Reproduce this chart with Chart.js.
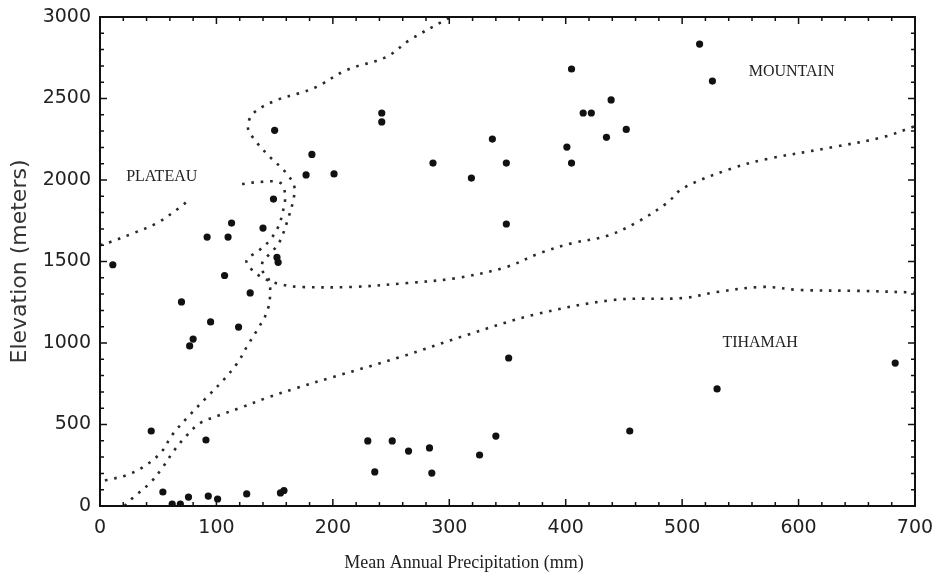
<!DOCTYPE html>
<html>
<head>
<meta charset="utf-8">
<script src="https://cdn.jsdelivr.net/npm/chart.js@4.4.0/dist/chart.umd.min.js"></script>
<style>
  body { margin: 0; background: #fff; }
  #chart { display: block; }
</style>
</head>
<body>
<canvas id="chart" width="940" height="578"></canvas>
<script>
// station points: precipitation (mm) vs elevation (m)
const precip = [11, 150, 182, 177, 149, 113, 92, 110, 140, 152, 153, 107, 70, 129, 95, 119, 80, 77,
  44, 91, 54, 76, 93, 101, 126, 155, 158, 62, 69,
  242, 242, 201, 286, 337, 319, 349, 349, 405, 439, 415, 422, 435, 401, 405, 515, 526, 452,
  351, 230, 251, 265, 283, 340, 326, 236, 285, 455, 530, 683]
const elevation = [1480, 2305, 2157, 2031, 1883, 1736, 1650, 1650, 1705, 1525, 1495, 1414, 1252, 1307, 1129, 1098, 1024, 982,
  460, 405, 86, 55, 61, 43, 74, 80, 95, 12, 12,
  2411, 2356, 2037, 2104, 2251, 2012, 2104, 1730, 2681, 2491, 2411, 2411, 2262, 2202, 2104, 2834, 2607, 2310,
  908, 399, 399, 337, 356, 429, 313, 209, 202, 460, 718, 877]

// dotted region boundaries
const plateauX = [0, 9, 28, 49, 69, 77]
const plateauY = [1600, 1620, 1672, 1736, 1834, 1883]

const mountainX = [300, 266, 246, 212, 186, 172, 152, 132, 127, 133, 146, 160, 167, 166, 162, 155, 149, 140, 139, 145, 146, 143, 135, 126, 118, 106, 92, 77, 62, 52, 37, 23, 6, 0]
const mountainY = [2995, 2859, 2755, 2675, 2571, 2534, 2491, 2411, 2325, 2245, 2141, 2043, 1957, 1877, 1773, 1632, 1570, 1500, 1450, 1387, 1282, 1183, 1080, 976, 877, 773, 669, 558, 436, 325, 239, 190, 160, 155]

const middleX = [122, 137, 155, 159, 157, 153, 146, 137, 126, 129, 140, 155, 172, 217, 264, 307, 349, 378, 406, 435, 460, 487, 501, 544, 573, 630, 673, 700]
const middleY = [1975, 1988, 1982, 1908, 1804, 1712, 1632, 1570, 1509, 1460, 1399, 1360, 1344, 1344, 1368, 1399, 1466, 1552, 1613, 1656, 1736, 1859, 1951, 2074, 2129, 2202, 2264, 2330]

const tihamahX = [21, 28, 43, 54, 64, 75, 86, 103, 120, 143, 169, 200, 258, 315, 372, 441, 501, 530, 569, 601, 650, 700]
const tihamahY = [0, 49, 141, 239, 344, 436, 509, 558, 601, 663, 724, 791, 914, 1049, 1172, 1264, 1276, 1313, 1344, 1325, 1320, 1310]

// region names and where they sit (data units)
const regionNames = ['PLATEAU', 'MOUNTAIN', 'TIHAMAH']
const regionX = [53, 594, 567]
const regionY = [2018, 2663, 1000]

const xTicks = [0, 100, 200, 300, 400, 500, 600, 700]
const yTicks = [0, 500, 1000, 1500, 2000, 2500, 3000]

const toXY = (xs, ys) => xs.map((x, i) => ({ x: x, y: ys[i] }))

const dotted = (xs, ys) => ({
  data: toXY(xs, ys),
  showLine: true,
  pointRadius: 0,
  borderColor: '#2a2a2a',
  borderWidth: 2.6,
  borderDash: [2.6, 6.8],
  tension: 0.35,
  fill: false,
  order: 2
})

const frame = {
  id: 'frame',
  afterDraw(chart) {
    const ctx = chart.ctx
    const a = chart.chartArea
    const xs = chart.scales.x
    const ys = chart.scales.y
    ctx.save()
    ctx.strokeStyle = '#111'
    ctx.lineWidth = 2
    ctx.strokeRect(a.left, a.top, a.right - a.left, a.bottom - a.top)

    // inward ticks, minor every 20 mm / 100 m
    ctx.lineWidth = 1.5
    ctx.beginPath()
    for (let v = 0; v <= 700; v += 20) {
      const px = xs.getPixelForValue(v)
      const len = v % 100 === 0 ? 7 : 4
      ctx.moveTo(px, a.bottom); ctx.lineTo(px, a.bottom - len)
      ctx.moveTo(px, a.top); ctx.lineTo(px, a.top + len)
    }
    for (let v = 0; v <= 3000; v += 100) {
      const py = ys.getPixelForValue(v)
      const len = v % 500 === 0 ? 7 : 4
      ctx.moveTo(a.left, py); ctx.lineTo(a.left + len, py)
      ctx.moveTo(a.right, py); ctx.lineTo(a.right - len, py)
    }
    ctx.stroke()

    // region labels
    ctx.fillStyle = '#222'
    ctx.font = '16px "Liberation Serif", serif'
    ctx.textAlign = 'center'
    ctx.textBaseline = 'middle'
    regionNames.forEach((name, i) => {
      ctx.fillText(name, xs.getPixelForValue(regionX[i]), ys.getPixelForValue(regionY[i]))
    })

    // x axis title (sits left of centre in the original)
    ctx.font = '18px "Liberation Serif", serif'
    ctx.fillText('Mean Annual Precipitation (mm)', 464, 563)
    ctx.restore()
  }
}

const canvasChart = document.getElementById('chart')

const myChart = new Chart(canvasChart, {
  type: 'scatter',
  data: {
    datasets: [
      dotted(plateauX, plateauY),
      dotted(mountainX, mountainY),
      dotted(middleX, middleY),
      dotted(tihamahX, tihamahY),
      {
        data: toXY(precip, elevation),
        pointRadius: 3.6,
        pointBackgroundColor: '#111',
        pointBorderWidth: 0,
        order: 1
      }
    ]
  },
  options: {
    responsive: false,
    devicePixelRatio: 1,
    animation: false,
    layout: { padding: { top: 17, right: 25, left: 0, bottom: 0 } },
    plugins: {
      legend: { display: false },
      tooltip: { enabled: false }
    },
    scales: {
      x: {
        type: 'linear',
        min: 0,
        max: 700,
        afterBuildTicks: s => { s.ticks = xTicks.map(v => ({ value: v })) },
        afterFit: s => { s.height = 72; s.paddingLeft = 0; s.paddingRight = 0 },
        grid: { display: false, drawTicks: false },
        border: { display: false },
        ticks: {
          padding: 11,
          color: '#222',
          callback: v => String(v),
          font: { family: '"DejaVu Sans"', size: 19 }
        }
      },
      y: {
        type: 'linear',
        min: 0,
        max: 3000,
        afterBuildTicks: s => { s.ticks = yTicks.map(v => ({ value: v })) },
        afterFit: s => { s.width = 100; s.paddingTop = 0; s.paddingBottom = 0 },
        grid: { display: false, drawTicks: false },
        border: { display: false },
        ticks: {
          padding: 9,
          color: '#222',
          callback: v => String(v),
          font: { family: '"DejaVu Sans"', size: 19 }
        },
        title: {
          display: true,
          text: 'Elevation (meters)',
          color: '#333',
          padding: { top: 7, bottom: 0 },
          font: { family: '"DejaVu Sans"', size: 22 }
        }
      }
    }
  },
  plugins: [frame]
})
</script>
</body>
</html>
